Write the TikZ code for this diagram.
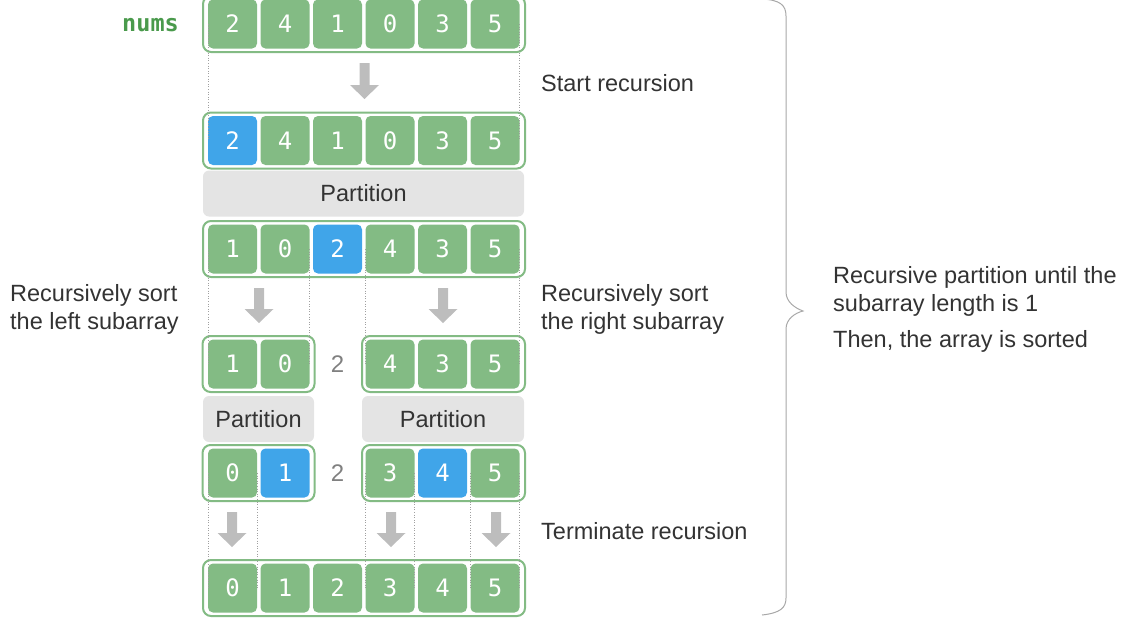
\documentclass[tikz,border=0pt]{standalone}
\usepackage{fontspec}
\setmainfont{Liberation Sans}
\newfontfamily\monofont{DejaVu Sans Mono}
\definecolor{cgreen}{HTML}{83BB84}
\definecolor{cblue}{HTML}{40A5E9}
\definecolor{cbar}{HTML}{E4E4E4}
\definecolor{carrow}{HTML}{BDBDBD}
\definecolor{ctext}{HTML}{333333}
\definecolor{cnum}{HTML}{4A9A4C}
\definecolor{cdot}{HTML}{A0A0A0}
\definecolor{cbrace}{HTML}{A8A8A8}
\definecolor{ctwo}{HTML}{808080}
\tikzset{
  cell/.style={rectangle, rounded corners=5pt, fill=cgreen, minimum width=49pt, minimum height=49pt, inner sep=0pt, text=white, font=\monofont\fontsize{24}{24}\selectfont},
  pivotcell/.style={cell, fill=cblue},
  outerbox/.style={rectangle, draw=cgreen, line width=2pt, rounded corners=8pt, minimum height=56pt, inner sep=0pt},
  partbar/.style={rectangle, fill=cbar, rounded corners=6pt, minimum height=46pt, inner sep=0pt, text=ctext, font=\fontsize{23.5}{28}\selectfont},
  lbl/.style={anchor=west, inner sep=0pt, text=ctext, align=left, font=\fontsize{23.5}{28}\selectfont},
  dotline/.style={draw=cdot, line width=0.6pt, dotted},
  twolbl/.style={inner sep=0pt, text=ctwo, font=\fontsize{24}{28}\selectfont},
}
\newcommand\blockarrow[3]{%
  \fill[carrow] ({#1-5},{#2}) -- ({#1+5},{#2}) -- ({#1+5},{#3-14}) -- ({#1+14.5},{#3-14}) -- ({#1},{#3}) -- ({#1-14.5},{#3-14}) -- ({#1-5},{#3-14}) -- cycle;}
\begin{document}
\begin{tikzpicture}[x=1pt,y=-1pt]
\useasboundingbox (0,0) rectangle (1131,627);
% outer boxes
\node[outerbox, minimum width=322pt] (b1) at (364,24) {};
\node[outerbox, minimum width=322pt] (b2) at (364,140.5) {};
\node[outerbox, minimum width=322pt] (b3) at (364,249) {};
\node[outerbox, minimum width=112pt] (b4l) at (258.5,364) {};
\node[outerbox, minimum width=163pt] (b4r) at (443.5,364) {};
\node[outerbox, minimum width=112pt] (b5l) at (258.5,473) {};
\node[outerbox, minimum width=163pt] (b5r) at (443.5,473) {};
\node[outerbox, minimum width=322pt] (b6) at (364,588) {};
% row 1
\foreach \v [count=\i] in {2,4,1,0,3,5} {
  \node[cell] (r1c\i) at ({232.5+52.5*(\i-1)},24) {\v};
}
% row 2
\foreach \v [count=\i] in {2,4,1,0,3,5} {
  \ifnum\i=1 \node[pivotcell] (r2c\i) at ({232.5+52.5*(\i-1)},140.5) {\v};
  \else \node[cell] (r2c\i) at ({232.5+52.5*(\i-1)},140.5) {\v}; \fi
}
% row 3
\foreach \v [count=\i] in {1,0,2,4,3,5} {
  \ifnum\i=3 \node[pivotcell] (r3c\i) at ({232.5+52.5*(\i-1)},249) {\v};
  \else \node[cell] (r3c\i) at ({232.5+52.5*(\i-1)},249) {\v}; \fi
}
% row 4
\node[cell] (r4c1) at (232.5,364) {1};
\node[cell] (r4c2) at (285,364) {0};
\node[twolbl] (r4c3) at (337.5,364) {2};
\node[cell] (r4c4) at (390,364) {4};
\node[cell] (r4c5) at (442.5,364) {3};
\node[cell] (r4c6) at (495,364) {5};
% row 5
\node[cell] (r5c1) at (232.5,473) {0};
\node[pivotcell] (r5c2) at (285,473) {1};
\node[twolbl] (r5c3) at (337.5,473) {2};
\node[cell] (r5c4) at (390,473) {3};
\node[pivotcell] (r5c5) at (442.5,473) {4};
\node[cell] (r5c6) at (495,473) {5};
% row 6
\foreach \v [count=\i] in {0,1,2,3,4,5} {
  \node[cell] (r6c\i) at ({232.5+52.5*(\i-1)},588) {\v};
}
% partition bars
\node[partbar, minimum width=321pt] (p1) at (363.5,193.5) {Partition};
\node[partbar, minimum width=111pt] (p2l) at (258.5,419) {Partition};
\node[partbar, minimum width=162pt] (p2r) at (443,419) {Partition};
% dotted guides
\draw[dotline] (r1c1.west) -- (r2c1.west);
\draw[dotline] (r1c6.east) -- (r2c6.east);
\draw[dotline] (r3c1.west) -- (r4c1.west);
\draw[dotline] (r3c2.east) -- (r4c2.east);
\draw[dotline] (r3c4.west) -- (r4c4.west);
\draw[dotline] (r3c6.east) -- (r4c6.east);
\draw[dotline] (r5c1.west) -- (r6c1.west);
\draw[dotline] (r5c1.east) -- (r6c1.east);
\draw[dotline] (r5c4.west) -- (r6c4.west);
\draw[dotline] (r5c4.east) -- (r6c4.east);
\draw[dotline] (r5c6.west) -- (r6c6.west);
\draw[dotline] (r5c6.east) -- (r6c6.east);
% block arrows
\blockarrow{364.5}{63}{99}
\blockarrow{259}{288}{323}
\blockarrow{443}{288}{323}
\blockarrow{232}{512}{547}
\blockarrow{391}{512}{547}
\blockarrow{496}{512}{547}
% labels
\node[inner sep=0pt, anchor=east, text=cnum, font=\monofont\bfseries\fontsize{23.5}{23.5}\selectfont] (nums) at (179,25) {nums};
\node[lbl] (start) at (541,83) {Start recursion};
\node[lbl] (left) at (10,309) {Recursively sort\\the left subarray};
\node[lbl] (right) at (541,309) {Recursively sort\\the right subarray};
\node[lbl] (term) at (541,531) {Terminate recursion};
\node[lbl] (rec) at (833,291) {Recursive partition until the\\subarray length is 1};
\node[lbl] (then) at (833,341) {Then, the array is sorted};
% brace
\draw[cbrace, line width=1pt] (762,-1) .. controls (780,0) and (786,5) .. (786,16) -- (786,292) .. controls (786,302) and (795,308) .. (803,311) .. controls (795,313) and (786,319) .. (786,329) -- (786,598) .. controls (786,608) and (780,613) .. (762,615);
\end{tikzpicture}
\end{document}
